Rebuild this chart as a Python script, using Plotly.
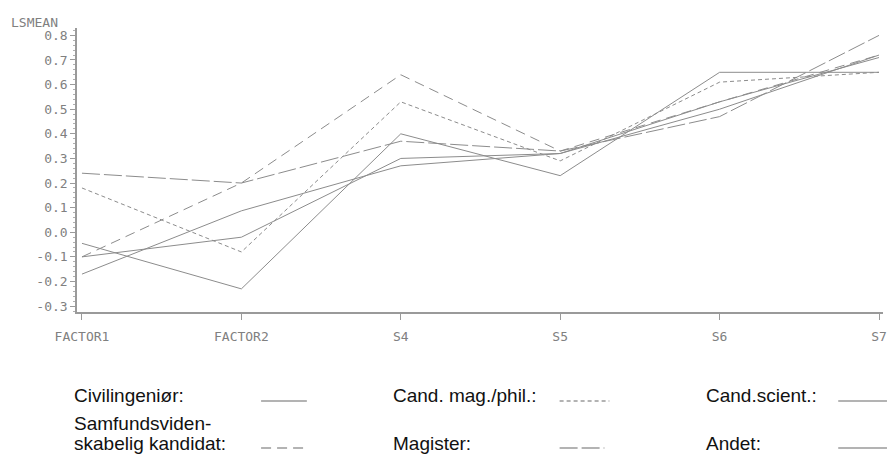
import plotly.graph_objects as go

categories = ["FACTOR1", "FACTOR2", "S4", "S5", "S6", "S7"]

civilingenior = [-0.045, -0.23, 0.40, 0.23, 0.65, 0.65]
cand_mag_phil = [0.18, -0.08, 0.53, 0.29, 0.61, 0.65]
cand_scient = [-0.17, 0.087, 0.27, 0.32, 0.53, 0.71]
samfund = [-0.10, 0.20, 0.64, 0.33, 0.53, 0.72]
magister = [0.24, 0.20, 0.37, 0.33, 0.47, 0.80]
andet = [-0.10, -0.02, 0.30, 0.32, 0.50, 0.72]

y_ticks = [0.8, 0.7, 0.6, 0.5, 0.4, 0.3, 0.2, 0.1, 0.0, -0.1, -0.2, -0.3]
y_ticktext = ["0.8", "0.7", "0.6", "0.5", "0.4", "0.3", "0.2", "0.1", "0.0", "-0.1", "-0.2", "-0.3"]

legend_labels = ["Civilingeniør:", "Cand. mag./phil.:", "Cand.scient.:",
                 "Samfundsviden-<br>skabelig kandidat:", "Magister:", "Andet:"]

series = [civilingenior, cand_mag_phil, cand_scient, samfund, magister, andet]
dashes = ["solid", "4px,3px", "solid", "10px,6px", "18px,4px", "solid"]
line_color = "#8c8c8c"

W, H = 891, 454
ML, MR, MT, MB = 77, 4, 28, 142
PW, PH = W - ML - MR, H - MT - MB

def px_x(px):
    return (px - ML) / PW

def px_y(py):
    return (H - MB - py) / PH

fig = go.Figure()
for vals, d, name in zip(series, dashes, legend_labels):
    fig.add_trace(go.Scatter(
        x=list(range(len(categories))), y=vals, mode="lines",
        line=dict(color=line_color, width=1, dash=d),
        name=name.replace("<br>", ""), showlegend=False,
    ))

axis_font = dict(family="DejaVu Sans Mono", size=13, color="#808080")

fig.update_layout(
    width=W, height=H,
    margin=dict(l=ML, r=MR, t=MT, b=MB, pad=0),
    paper_bgcolor="white", plot_bgcolor="white",
    xaxis=dict(
        range=[-0.0312, 5.025], tickmode="array",
        tickvals=list(range(len(categories))), ticktext=categories,
        showgrid=False, zeroline=False, showline=True,
        linecolor="#9a9a9a", linewidth=1.5,
        ticks="outside", ticklen=6, tickcolor="#9a9a9a", tickwidth=1,
        tickfont=axis_font, ticklabelstandoff=6,
    ),
    yaxis=dict(
        range=[-0.324, 0.830], tickmode="array",
        tickvals=y_ticks, ticktext=y_ticktext,
        showgrid=False, zeroline=False, showline=True,
        linecolor="#9a9a9a", linewidth=1.5,
        ticks="outside", ticklen=5, tickcolor="#9a9a9a", tickwidth=1,
        tickfont=axis_font,
        minor=dict(dtick=0.02, tick0=0, ticks="outside", ticklen=2,
                   tickcolor="#b0b0b0", showgrid=False),
    ),
)

fig.add_annotation(
    text="LSMEAN", xref="paper", yref="paper",
    x=px_x(9), y=px_y(22), xanchor="left", yanchor="middle",
    showarrow=False, font=axis_font,
)

legend_font = dict(family="Liberation Sans", size=19, color="#111111")
text_x = [72, 393, 707, 72, 393, 707]
text_y = [395, 395, 395, 433, 443, 443]
sample_x = [(262, 308), (562, 612), (842, 891), (262, 308), (562, 607), (842, 891)]
sample_y = [401, 401, 401, 448, 448, 448]

for i, lab in enumerate(legend_labels):
    if "<br>" in lab:
        parts = lab.split("<br>")
        fig.add_annotation(text=parts[0], xref="paper", yref="paper",
                           x=px_x(text_x[i]), y=px_y(423), xanchor="left", yanchor="middle",
                           showarrow=False, font=legend_font)
        fig.add_annotation(text=parts[1], xref="paper", yref="paper",
                           x=px_x(text_x[i]), y=px_y(443), xanchor="left", yanchor="middle",
                           showarrow=False, font=legend_font)
    else:
        fig.add_annotation(text=lab, xref="paper", yref="paper",
                           x=px_x(text_x[i]), y=px_y(text_y[i]), xanchor="left", yanchor="middle",
                           showarrow=False, font=legend_font)
    x0, x1 = sample_x[i]
    fig.add_shape(type="line", xref="paper", yref="paper",
                  x0=px_x(x0), x1=px_x(x1), y0=px_y(sample_y[i]), y1=px_y(sample_y[i]),
                  line=dict(color="#9a9a9a", width=1.5, dash=dashes[i]))

fig.write_html("out.html", config={"displayModeBar": False},
               post_script="document.body.style.margin='0';")
